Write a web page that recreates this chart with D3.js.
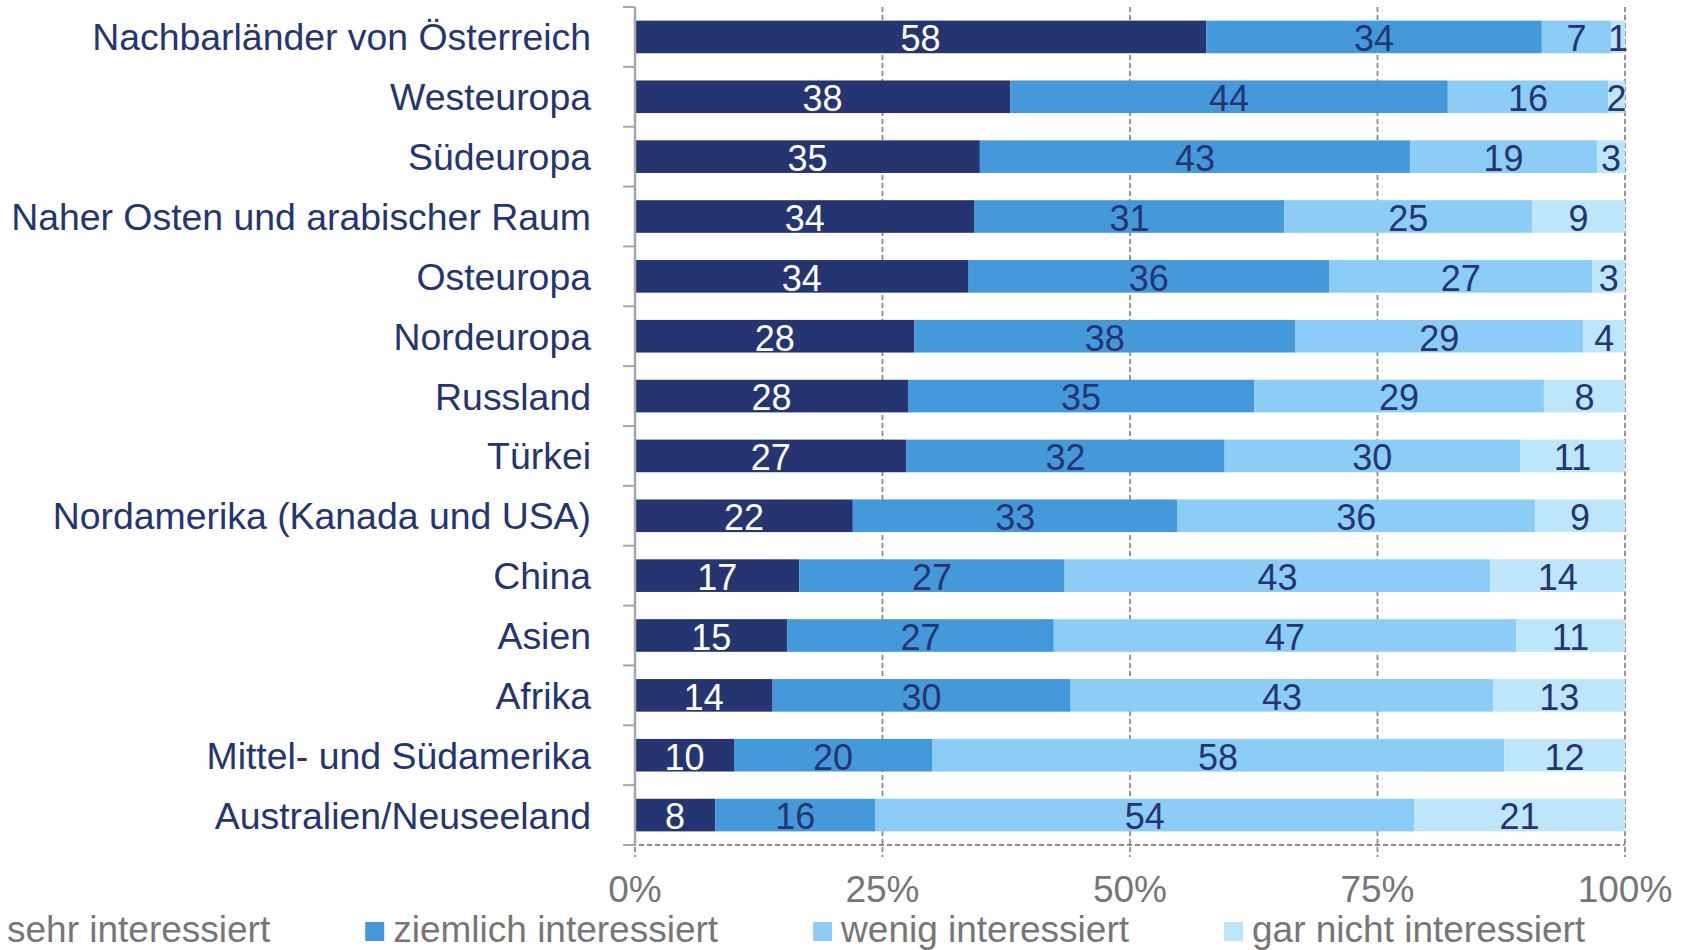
<!DOCTYPE html>
<html>
<head>
<meta charset="utf-8">
<script src="https://cdn.jsdelivr.net/npm/d3@7"></script>
<style>
  html, body { margin: 0; padding: 0; background: #fff; }
  svg { display: block; font-family: "Liberation Sans", Arial, sans-serif; }
</style>
</head>
<body>
<div id="chart"></div>
<script>
// regions, top to bottom
var regions = [
  "Nachbarländer von Österreich",
  "Westeuropa",
  "Südeuropa",
  "Naher Osten und arabischer Raum",
  "Osteuropa",
  "Nordeuropa",
  "Russland",
  "Türkei",
  "Nordamerika (Kanada und USA)",
  "China",
  "Asien",
  "Afrika",
  "Mittel- und Südamerika",
  "Australien/Neuseeland"
];

// answer categories (legend order)
var seriesNames = [
  "sehr interessiert",
  "ziemlich interessiert",
  "wenig interessiert",
  "gar nicht interessiert"
];

// shares in percent (labels are the rounded values)
var sehr     = [57.7, 37.9, 34.8, 34.3, 33.7, 28.2, 27.6, 27.4, 22.0, 16.6, 15.4, 13.9, 10.0, 8.1];
var ziemlich = [33.9, 44.2, 43.4, 31.3, 36.4, 38.4, 35.0, 32.1, 32.8, 26.8, 26.9, 30.1, 20.0, 16.2];
var wenig    = [7.0, 16.2, 18.9, 25.0, 26.6, 29.1, 29.3, 29.8, 36.1, 43.0, 46.7, 42.7, 57.8, 54.4];
var garNicht = [1.4, 1.7, 2.8, 9.4, 3.3, 4.2, 8.2, 10.6, 9.1, 13.6, 11.0, 13.3, 12.2, 21.3];

var tickValues = [0, 0.25, 0.5, 0.75, 1];
var tickLabels = ["0%", "25%", "50%", "75%", "100%"];

var colors = ["#243571", "#4499da", "#8bcdf6", "#bde6fa"];
var navy = "#243571";
var grey = "#767676";

// plot area (note: "top" is taken by window.top, so use other names)
var width = 1690, height = 950;
var plotLeft = 635, plotRight = 1625, plotTop = 7, plotBottom = 845;

// build the table d3.stack wants
var table = regions.map(function(r, i) {
  return {
    region: r,
    "sehr interessiert": sehr[i],
    "ziemlich interessiert": ziemlich[i],
    "wenig interessiert": wenig[i],
    "gar nicht interessiert": garNicht[i]
  };
});

var stacked = d3.stack()
  .keys(seriesNames)
  .offset(d3.stackOffsetExpand)(table);

var x = d3.scaleLinear().domain([0, 1]).range([plotLeft, plotRight]);
var y = d3.scaleBand().domain(regions).range([plotTop, plotBottom]).paddingInner(0.455).paddingOuter(0.2275);
var yTicks = d3.scaleBand().domain(regions).range([plotTop, plotBottom]);

var color = d3.scaleOrdinal().domain(seriesNames).range(colors);

var svg = d3.select("#chart")
  .append("svg")
  .attr("width", width)
  .attr("height", height);

// dashed vertical gridlines (also run a bit below the axis as tick marks)
svg.append("g")
  .selectAll("line")
  .data(tickValues)
  .enter()
  .append("line")
  .attr("x1", function(d) { return x(d); })
  .attr("x2", function(d) { return x(d); })
  .attr("y1", plotTop)
  .attr("y2", plotBottom + 12)
  .attr("stroke", "#8a8a8a")
  .attr("stroke-width", 1.8)
  .attr("stroke-dasharray", "5,3");

// dashed bottom axis line
svg.append("line")
  .attr("x1", plotLeft - 12)
  .attr("x2", plotRight)
  .attr("y1", plotBottom)
  .attr("y2", plotBottom)
  .attr("stroke", "#8a8a8a")
  .attr("stroke-width", 1.8)
  .attr("stroke-dasharray", "5,3");

// bars
var layer = svg.append("g")
  .selectAll("g")
  .data(stacked)
  .enter()
  .append("g")
  .attr("fill", function(d) { return color(d.key); });

layer.selectAll("rect")
  .data(function(d) { return d; })
  .enter()
  .append("rect")
  .attr("x", function(d) { return x(d[0]); })
  .attr("width", function(d) { return x(d[1]) - x(d[0]); })
  .attr("y", function(d) { return y(d.data.region); })
  .attr("height", y.bandwidth());

// value labels, centred in each segment
stacked.forEach(function(s, si) {
  svg.append("g")
    .selectAll("text")
    .data(s)
    .enter()
    .append("text")
    .attr("x", function(d) { return (x(d[0]) + x(d[1])) / 2; })
    .attr("y", function(d) { return y(d.data.region) + y.bandwidth() / 2; })
    .attr("dy", "0.4em")
    .attr("text-anchor", "middle")
    .attr("font-size", 36)
    .attr("fill", si == 0 ? "#ffffff" : navy)
    .text(function(d) { return Math.round(d.data[s.key]); });
});

// solid category axis with ticks pointing left
var yAxis = svg.append("g")
  .attr("transform", "translate(" + plotLeft + ",0)");

yAxis.append("line")
  .attr("x1", 0).attr("x2", 0)
  .attr("y1", plotTop).attr("y2", plotBottom)
  .attr("stroke", "#a6a6a6")
  .attr("stroke-width", 2.5);

yAxis.selectAll(".tick")
  .data(regions.concat(["end"]))
  .enter()
  .append("line")
  .attr("x1", -12).attr("x2", 0)
  .attr("y1", function(d, i) { return plotTop + i * yTicks.step(); })
  .attr("y2", function(d, i) { return plotTop + i * yTicks.step(); })
  .attr("stroke", "#a6a6a6")
  .attr("stroke-width", 2);

// category labels
svg.append("g")
  .selectAll("text")
  .data(regions)
  .enter()
  .append("text")
  .attr("x", plotLeft - 44)
  .attr("y", function(d) { return y(d) + y.bandwidth() / 2; })
  .attr("dy", "0.36em")
  .attr("text-anchor", "end")
  .attr("font-size", 37.4)
  .attr("fill", navy)
  .text(function(d) { return d; });

// percent tick labels
svg.append("g")
  .selectAll("text")
  .data(tickValues)
  .enter()
  .append("text")
  .attr("x", function(d) { return x(d); })
  .attr("y", 902)
  .attr("text-anchor", "middle")
  .attr("font-size", 37)
  .attr("fill", grey)
  .text(function(d, i) { return tickLabels[i]; });

// legend, laid out by text width
var legend = svg.append("g");
var lx = 7;
seriesNames.forEach(function(name) {
  legend.append("rect")
    .attr("x", lx - 28)
    .attr("y", 922)
    .attr("width", 19)
    .attr("height", 19)
    .attr("fill", color(name));
  var t = legend.append("text")
    .attr("x", lx)
    .attr("y", 942)
    .attr("font-size", 37)
    .attr("fill", grey)
    .text(name);
  lx += t.node().getComputedTextLength() + 95 + 28;
});
</script>
</body>
</html>
